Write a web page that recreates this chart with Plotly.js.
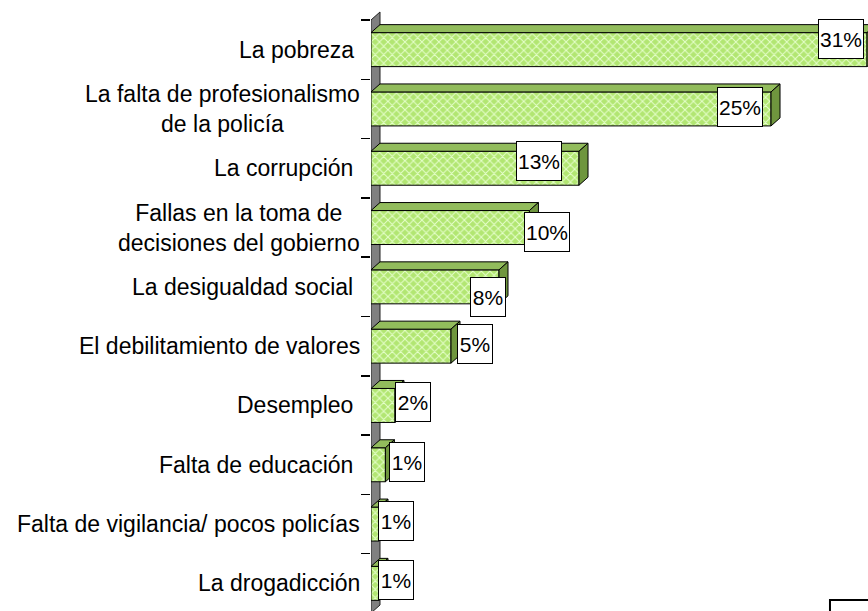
<!DOCTYPE html>
<html>
<head>
<meta charset="utf-8">
<script src="https://cdn.plot.ly/plotly-3.0.1.min.js"></script>
<style>
html,body{margin:0;padding:0;background:#fff;}
#chart{width:868px;height:611px;}
</style>
</head>
<body>
<div id="chart"></div>
<script>
// ---- data ----
const categories = [
  "La pobreza\u00A0",
  "La falta de profesionalismo<br>de la policía",
  "La corrupción\u00A0",
  "Fallas en la toma de<br>decisiones del gobierno",
  "La desigualdad social\u00A0",
  "El debilitamiento de valores",
  "Desempleo\u00A0",
  "Falta de educación\u00A0",
  "Falta de vigilancia/ pocos policías",
  "La drogadicción"
];
const values = [31, 25, 13, 9.9, 8, 5, 1.5, 0.9, 0.5, 0.5];
const valueLabels = ["31%", "25%", "13%", "10%", "8%", "5%", "2%", "1%", "1%", "1%"];

// ---- label placement (pixels, relative to bar end / bar centre) ----
const labelXShift = [-26, -31, -40, 18, -11, 24, 18, 22, 17, 17];
const labelYShift = [11, 2, 7, -4, -10, 2.5, 3, 3, 3.4, 3.7];
const labelWidth  = [44, 44, 44, 44, 34, 34, 34, 34, 34, 34];

// ---- geometry / style ----
const barW = 0.573;
const depthX = 0.5625;   // x units
const depthY = 0.135;    // category units
const font = "Liberation Sans, Arial, sans-serif";

const idx = categories.map((c, i) => i);

const trace = {
  type: "bar",
  orientation: "h",
  x: values,
  y: idx,
  width: barW,
  marker: {
    color: "#b8ee80",
    pattern: {shape: "x", fgcolor: "#e6ffcc", bgcolor: "#b2e672", size: 6, solidity: 0.3},
    line: {color: "#000", width: 1}
  },
  hoverinfo: "none"
};

const shapes = [];
// back wall
const yBottom = 9.5;
shapes.push({
  type: "path", xref: "x", yref: "y", layer: "below",
  path: `M 0,${-0.5} L ${depthX},${-0.5 - depthY} L ${depthX},${yBottom - depthY} L 0,${yBottom} Z`,
  fillcolor: "#808080", line: {color: "#222", width: 1}
});
values.forEach((v, i) => {
  const t = i - barW / 2, b = i + barW / 2;
  shapes.push({
    type: "path", xref: "x", yref: "y", layer: "above",
    path: `M 0,${t} L ${v},${t} L ${v + depthX},${t - depthY} L ${depthX},${t - depthY} Z`,
    fillcolor: "#92bc5c", line: {color: "#000", width: 1}
  });
  shapes.push({
    type: "path", xref: "x", yref: "y", layer: "above",
    path: `M ${v},${t} L ${v + depthX},${t - depthY} L ${v + depthX},${b - depthY} L ${v},${b} Z`,
    fillcolor: "#6f963e", line: {color: "#000", width: 1}
  });
});
// partially visible box at bottom right
shapes.push({
  type: "rect", xref: "paper", yref: "paper",
  x0: 0.9235, x1: 1.2, y0: -0.2, y1: 0.0182,
  line: {color: "#000", width: 2}, fillcolor: "rgba(0,0,0,0)"
});

const annotations = [];
categories.forEach((c, i) => {
  annotations.push({
    xref: "paper", yref: "y", x: 0, y: i, xanchor: "right", yanchor: "middle",
    xshift: -9, align: "center", showarrow: false, text: c,
    font: {family: font, size: 23, color: "#000"}
  });
});
values.forEach((v, i) => {
  annotations.push({
    xref: "x", yref: "y", x: v, y: i, xanchor: "center", yanchor: "middle",
    xshift: labelXShift[i], yshift: labelYShift[i],
    showarrow: false, text: valueLabels[i],
    width: labelWidth[i], height: 38, borderpad: 0,
    bgcolor: "#fff", bordercolor: "#000", borderwidth: 1,
    font: {family: font, size: 21, color: "#000"}
  });
});

const tickvals = [];
for (let k = 0; k < categories.length; k++) tickvals.push(k - 0.5);

const layout = {
  width: 868, height: 611,
  margin: {l: 371, r: 0, t: 8, b: 0, pad: 0},
  paper_bgcolor: "#fff", plot_bgcolor: "rgba(0,0,0,0)",
  showlegend: false,
  xaxis: {range: [0, 31.06], showgrid: false, zeroline: false, showline: false,
          showticklabels: false, ticks: "", fixedrange: true},
  yaxis: {range: [9.466, -0.702], showgrid: false, zeroline: false, showline: false,
          tickmode: "array", tickvals: tickvals, ticks: "outside", ticklen: 9,
          tickwidth: 1.5, tickcolor: "#000", showticklabels: false, fixedrange: true},
  shapes: shapes,
  annotations: annotations,
  font: {family: font}
};

Plotly.newPlot("chart", [trace], layout, {displayModeBar: false, staticPlot: true});
</script>
</body>
</html>
